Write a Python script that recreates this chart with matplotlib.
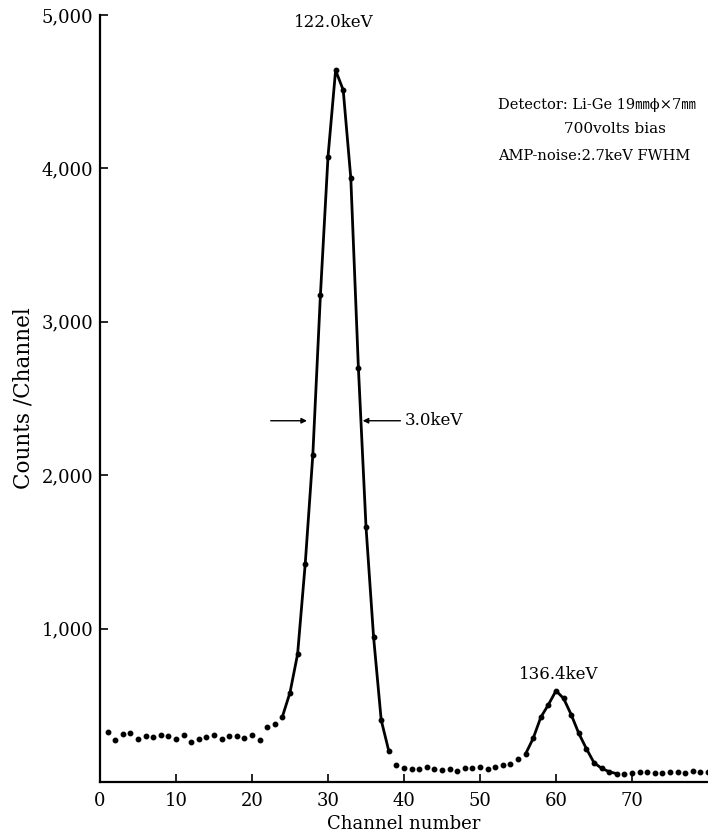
import numpy as np
import matplotlib.pyplot as plt

# counts per channel
channel = np.arange(1, 81)
counts = [328, 274, 313, 317, 278, 300, 295, 308, 300, 282,
          306, 263, 278, 295, 304, 280, 300, 300, 285, 308,
          272, 358, 376, 426, 583, 834, 1420, 2130, 3173, 4076,
          4640, 4511, 3937, 2699, 1664, 943, 404, 202, 109, 93,
          83, 85, 98, 83, 76, 85, 73, 91, 89, 100,
          87, 98, 113, 119, 152, 183, 285, 422, 504, 595,
          545, 439, 317, 217, 126, 89, 67, 54, 54, 59,
          67, 65, 57, 59, 63, 65, 59, 72, 63, 67]
counts = np.array(counts)

# channel ranges joined by a drawn curve
peak1 = (24, 38)
peak2 = (56, 68)

xticks = [0, 10, 20, 30, 40, 50, 60, 70]
yticks = [1000, 2000, 3000, 4000, 5000]
ytick_labels = ['1,000', '2,000', '3,000', '4,000', '5,000']

serif = ['DejaVu Serif', 'Noto Sans CJK JP']
plt.rcParams['font.family'] = serif

fig = plt.figure(figsize=(7.08, 8.33), dpi=100)
ax = fig.add_axes([100/708, 51/833, 608/708, 767/833])

for lo, hi in (peak1, peak2):
    m = (channel >= lo) & (channel <= hi)
    ax.plot(channel[m], counts[m], color='k', lw=2.0, solid_capstyle='round')
ax.plot(channel, counts, linestyle='None', marker='o', color='k',
        markersize=3.2, clip_on=False)

ax.set_xlim(0, 80)
ax.set_ylim(0, 5000)
ax.spines['top'].set_visible(False)
ax.spines['right'].set_visible(False)
ax.spines['left'].set_linewidth(1.6)
ax.spines['bottom'].set_linewidth(1.6)
ax.set_xticks(xticks)
ax.set_yticks(yticks)
ax.set_yticklabels(ytick_labels)
ax.tick_params(direction='in', length=6, width=1.2, labelsize=13, pad=5)
ax.tick_params(axis='x', pad=7)

ax.set_xlabel('Channel number', fontsize=13, labelpad=4)
ax.set_ylabel('Counts /Channel', fontsize=15.5, labelpad=5)

# peak labels
ax.text(30.8, 4954, '122.0keV', fontsize=12, ha='center', va='center')
ax.text(60.3, 704, '136.4keV', fontsize=12, ha='center', va='center')

# FWHM arrows
arr = dict(arrowstyle='-|>', color='k', lw=1.0, mutation_scale=8)
ax.annotate('', xy=(27.6, 2355), xytext=(22.1, 2355), arrowprops=arr)
ax.annotate('', xy=(34.2, 2355), xytext=(39.9, 2355), arrowprops=arr)
ax.text(40.1, 2355, '3.0keV', fontsize=12, ha='left', va='center')

# detector info
ax.text(52.4, 4413, 'Detector: Li-Ge 19\u339c\u03d5\u00d77\u339c', fontsize=10.5,
        ha='left', va='center')
ax.text(61.0, 4257, '700volts bias', fontsize=11, ha='left', va='center')
ax.text(52.4, 4081, 'AMP-noise:2.7keV FWHM', fontsize=10.5, ha='left', va='center')

fig.savefig('out.png', dpi=100)
